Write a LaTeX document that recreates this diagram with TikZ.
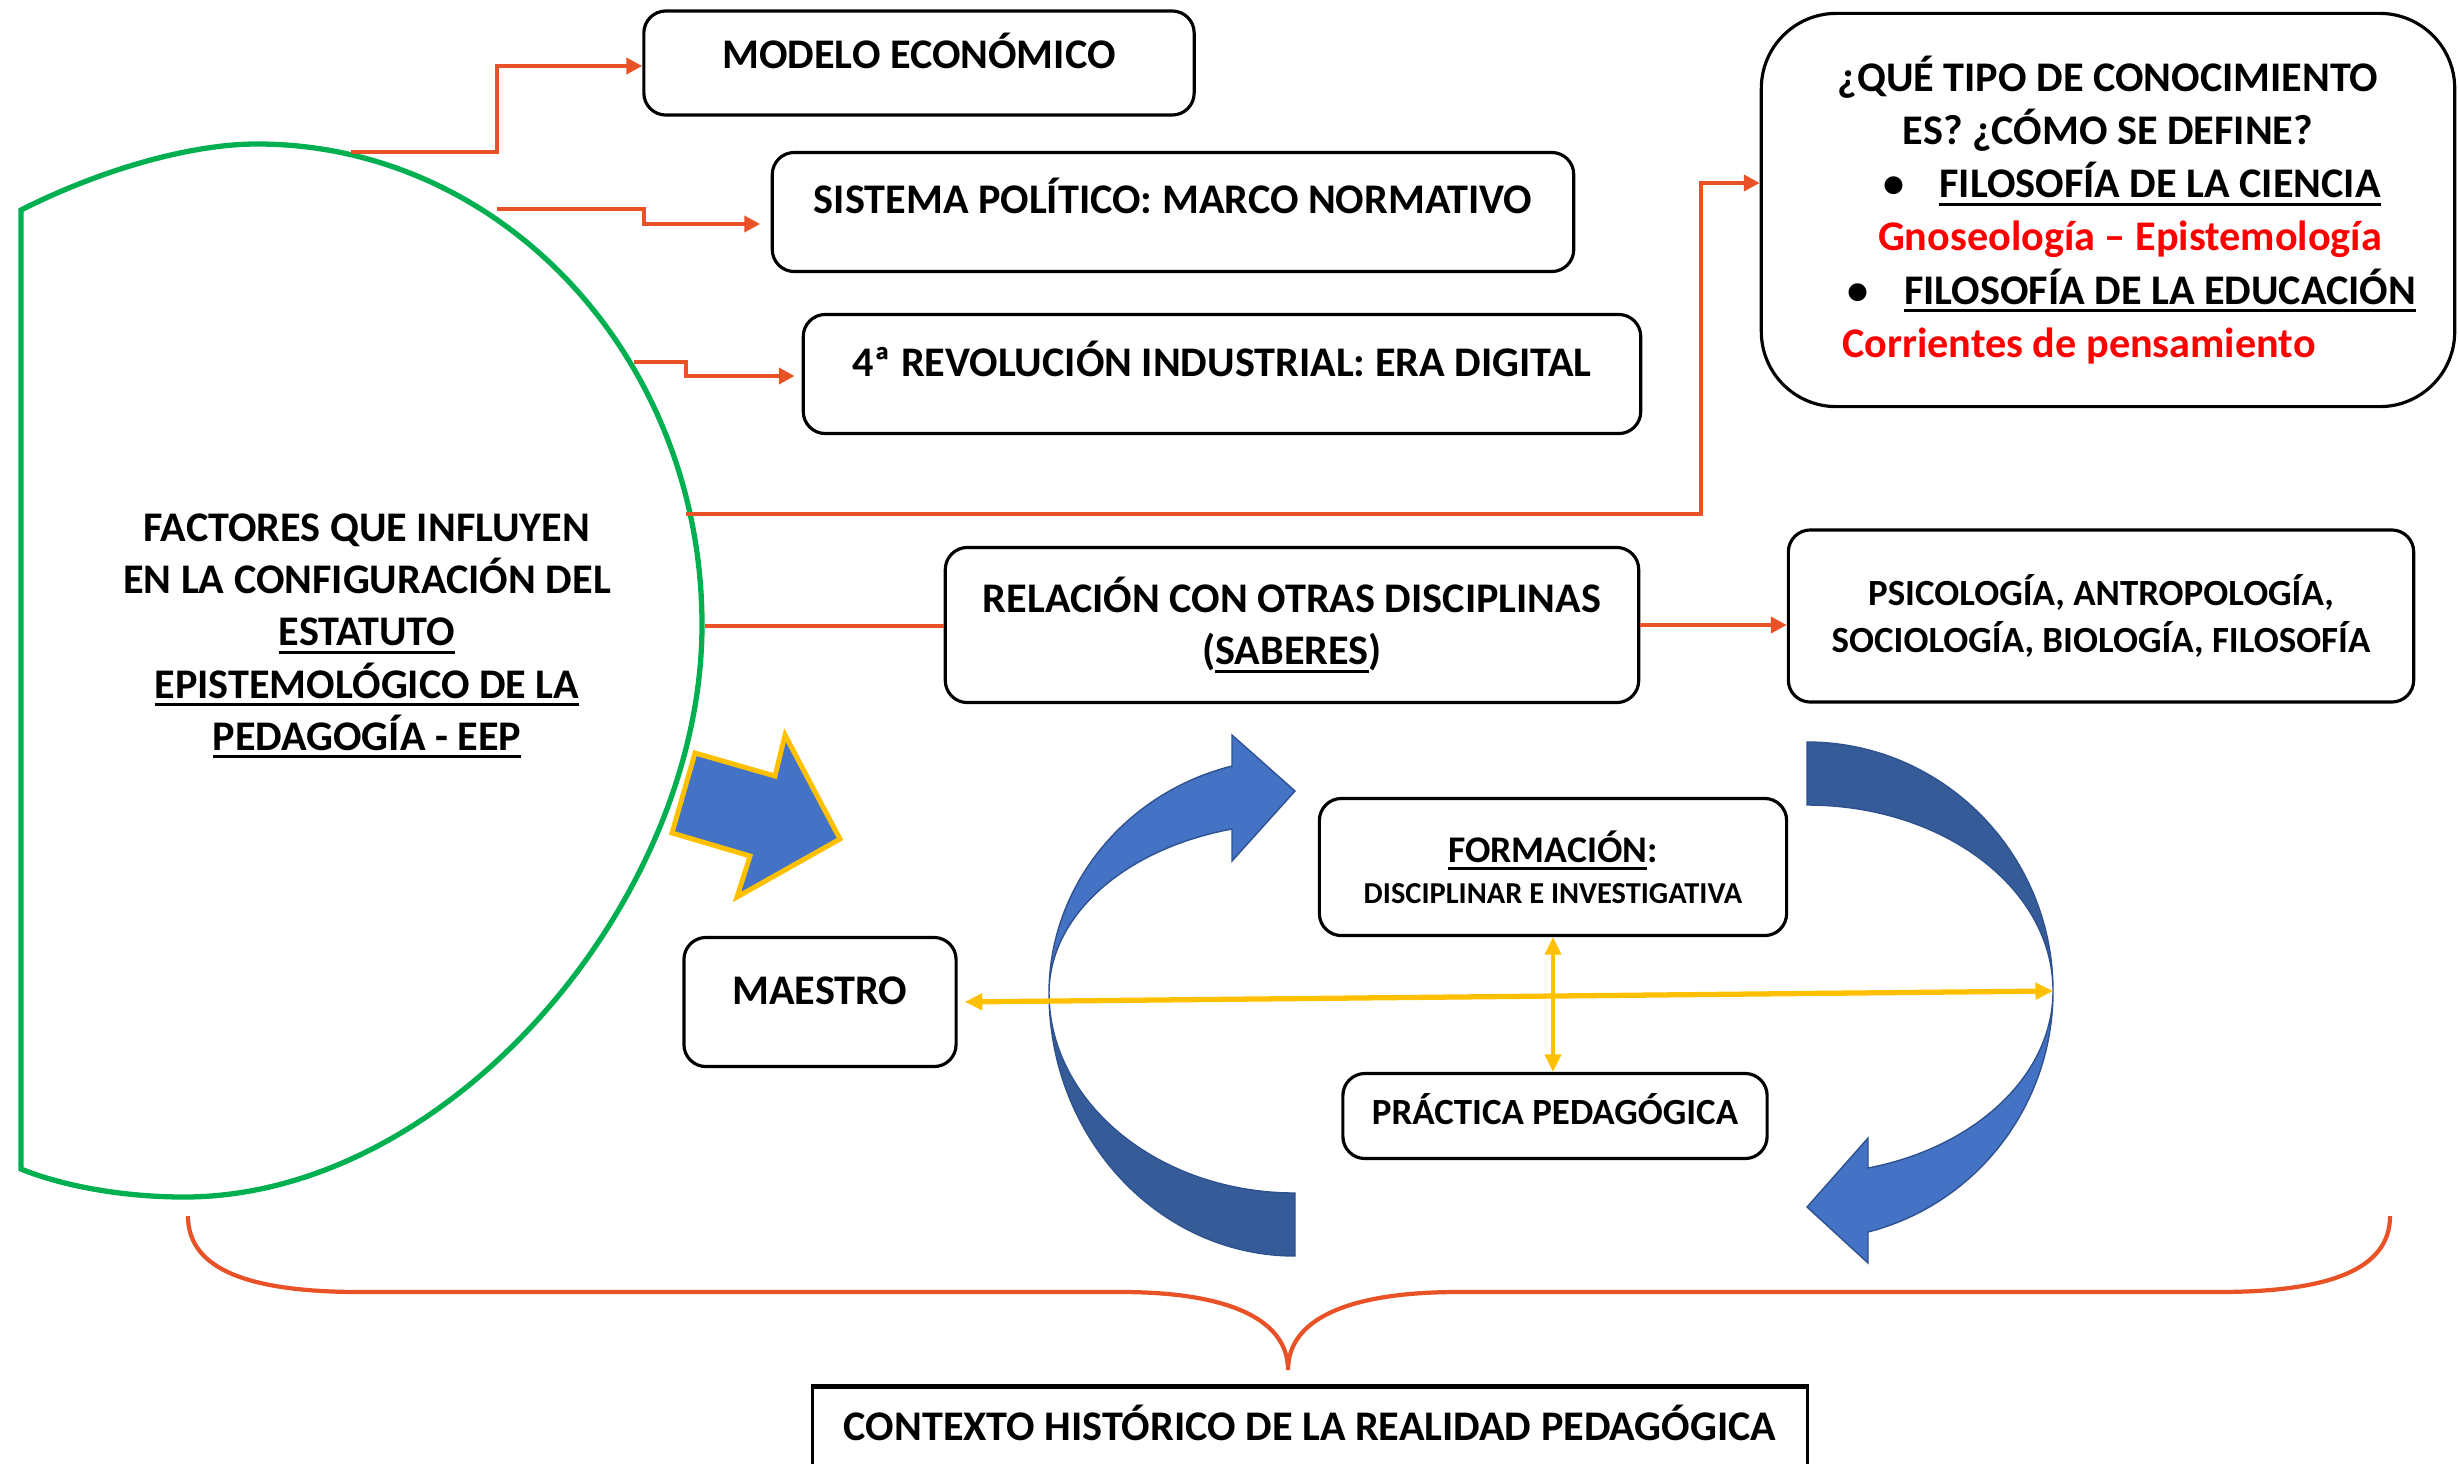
\documentclass[tikz,border=0pt]{standalone}
\usepackage{fontspec}
\setmainfont{Carlito}
\usepackage{tikz}
\usetikzlibrary{positioning,arrows.meta,calc}

\definecolor{naranja}{RGB}{233,81,38}
\definecolor{verde}{RGB}{0,176,80}
\definecolor{amarillo}{RGB}{255,192,0}
\definecolor{azul}{RGB}{68,114,196}
\definecolor{azuloscuro}{RGB}{53,91,153}
\definecolor{borde}{RGB}{47,82,143}
\definecolor{rojo}{RGB}{255,0,0}
\newcommand{\subr}[1]{\leavevmode\setbox0\hbox{#1}\rlap{\rule[-2.2pt]{\wd0}{0.8pt}}\box0}

\begin{document}
\begin{tikzpicture}[x=0.01cm,y=-0.01cm,
   caja/.style={draw,rounded corners=0.22cm,line width=0.9pt,align=center,inner sep=0pt,
      font=\bfseries\fontsize{12}{14.8}\selectfont},
   conn/.style={draw=naranja,line width=1.2pt,-{Triangle[length=4.5pt,width=4.5pt]}},
   doble/.style={draw=amarillo,{Triangle[length=5pt,width=4.6pt]}-{Triangle[length=5pt,width=4.6pt]}},
   curva/.style={line width=0.4pt,draw=borde}]

   \useasboundingbox (0,0) rectangle (2458,1463);

   \draw[verde,line width=1.5pt] (21,210) .. controls (100,170) and (190,144) .. (257,144)
      .. controls (503,144) and (702,359) .. (702,625)
      .. controls (702,900) and (450,1197) .. (184,1197)
      .. controls (120,1197) and (60,1185) .. (21,1169) -- cycle;
   \node[align=center,font=\bfseries\fontsize{12}{14.8}\selectfont] (factores) at (367,636)
      {FACTORES QUE INFLUYEN\\EN LA CONFIGURACIÓN DEL\\\subr{ESTATUTO}\\
       \subr{EPISTEMOLÓGICO DE LA}\\\subr{PEDAGOGÍA - EEP}};

   \coordinate (g1) at (351,152);
   \coordinate (g2) at (497,209);
   \coordinate (g3) at (634,362);
   \coordinate (g4) at (686,514);
   \coordinate (g5) at (705,626);

   \node[caja,minimum width=5.5cm,minimum height=1.04cm,text height=0.27cm,text depth=0.16cm]
      (modelo) at (919,63) {MODELO ECONÓMICO};
   \node[caja,minimum width=8.01cm,minimum height=1.19cm,text height=0.27cm,text depth=0.24cm]
      (sistema) at (1173,212) {SISTEMA POLÍTICO: MARCO NORMATIVO};
   \node[caja,minimum width=8.37cm,minimum height=1.19cm,text height=0.27cm,text depth=0.22cm]
      (revolucion) at (1222,374) {4ª REVOLUCIÓN INDUSTRIAL: ERA DIGITAL};
   \node[caja,rounded corners=0.75cm,minimum width=6.93cm,minimum height=3.93cm,
      font=\bfseries\fontsize{12}{15.1}\selectfont] (conocimiento) at (2108,210)
      {¿QUÉ TIPO DE CONOCIMIENTO\\ES? ¿CÓMO SE DEFINE?\\
       \kern0.48cm\textbullet\hspace{10pt}\subr{FILOSOFÍA DE LA CIENCIA}\\
       \kern0.44cm\textcolor{rojo}{Gnoseología – Epistemología}\\
       \kern0.48cm\textbullet\hspace{10pt}\subr{FILOSOFÍA DE LA EDUCACIÓN}\\
       \textcolor{rojo}{Corrientes de pensamiento}\kern0.58cm};
   \node[caja,minimum width=6.93cm,minimum height=1.55cm] (relacion) at (1292,625)
      {RELACIÓN CON OTRAS DISCIPLINAS\\(\subr{SABERES})};
   \node[caja,minimum width=6.25cm,minimum height=1.72cm,
      font=\bfseries\fontsize{10.5}{13.1}\selectfont] (psicologia) at (2101,616)
      {PSICOLOGÍA, ANTROPOLOGÍA,\\SOCIOLOGÍA, BIOLOGÍA, FILOSOFÍA};
   \node[caja,minimum width=4.67cm,minimum height=1.37cm,
      font=\bfseries\fontsize{8.65}{11.7}\selectfont] (formacion) at (1553,867)
      {{\fontsize{10.7}{11.7}\selectfont\subr{FORMACIÓN}:}\\DISCIPLINAR E INVESTIGATIVA};
   \node[caja,minimum width=2.72cm,minimum height=1.29cm,text height=0.27cm,text depth=0.23cm]
      (maestro) at (820,1002) {MAESTRO};
   \node[caja,minimum width=4.24cm,minimum height=0.85cm,text height=0.24cm,text depth=0.07cm,
      font=\bfseries\fontsize{10.5}{13}\selectfont] (practica) at (1555,1116) {PRÁCTICA PEDAGÓGICA};
   \node[draw,line width=0.8pt,minimum width=9.94cm,minimum height=1.1cm,inner sep=0pt,
      text height=0.27cm,text depth=0.32cm,font=\bfseries\fontsize{12}{14.8}\selectfont]
      (contexto) at (1310,1443) {CONTEXTO HISTÓRICO DE LA REALIDAD PEDAGÓGICA};
   \draw[line width=1.6pt] (contexto.north west) -- (contexto.north east);

   \draw[conn] (g1) -- ++(146,0) |- ($(modelo.west)+(0,3)$);
   \draw[conn,shorten >=3pt] (g2) -- ++(147,0) |- ($(sistema.west)+(0,12)$);
   \draw[conn,shorten >=2pt] (g3) -- ++(52,0) |- ($(revolucion.west)+(0,2)$);
   \draw[conn] (g4) -- ++(1015,0) |- ($(conocimiento.west)+(0,-27)$);
   \draw[naranja,line width=1.2pt] (g5) -- (g5 -| relacion.west);
   \draw[conn] (relacion.east) -- (relacion.east -| psicologia.west);

   \filldraw[fill=azul,draw=amarillo,line width=1.4pt,line join=miter]
      (695,753) -- (775,776) -- (785,735) -- (840,839) -- (737,897) -- (750,856) -- (672,833) -- cycle;

   \filldraw[curva,fill=azuloscuro] (1049,993) .. controls (1049,1138) and (1159,1256) .. (1295,1256)
      -- (1295,1193) .. controls (1159,1193) and (1049,1103) .. (1049,993) -- cycle;
   \filldraw[curva,fill=azul] (1049,993) .. controls (1049,887) and (1124,793) .. (1232,766)
      -- (1232,735) -- (1295,791) -- (1232,861) -- (1232,829)
      .. controls (1124,849) and (1049,916) .. (1049,993) -- cycle;
   \filldraw[curva,fill=azuloscuro] (1807,742) .. controls (1943,742) and (2053,854) .. (2053,991)
      .. controls (2053,888) and (1943,805) .. (1807,805) -- cycle;
   \filldraw[curva,fill=azul] (2053,991) .. controls (2053,1105) and (1977,1204) .. (1868,1232)
      -- (1868,1263) -- (1807,1207) -- (1868,1138) -- (1868,1168)
      .. controls (1977,1147) and (2053,1074) .. (2053,991) -- cycle;

   \coordinate (R) at (2053,991);
   \draw[doble,line width=1.5pt,shorten <=2pt] (maestro.east) -- (R);
   \draw[doble,line width=1pt] (formacion.south) -- (formacion.south |- practica.north);

   \draw[naranja,line width=1.2pt] (188,1216) .. controls (188,1270) and (250,1292) .. (360,1292)
      -- (1121,1292) .. controls (1230,1292) and (1288,1320) .. (1288,1370)
      .. controls (1288,1320) and (1346,1292) .. (1458,1292)
      -- (2218,1292) .. controls (2328,1292) and (2390,1270) .. (2390,1216);
\end{tikzpicture}
\end{document}
